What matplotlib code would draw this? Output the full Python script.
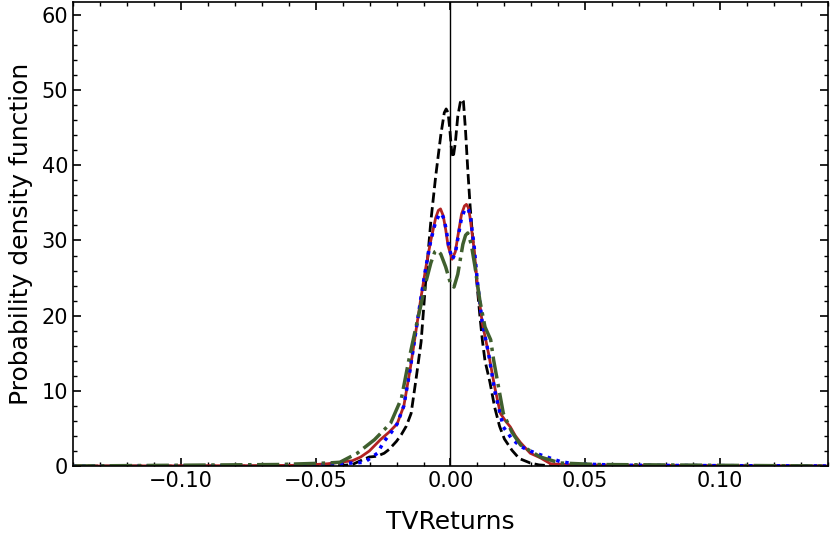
import numpy as np
import matplotlib
matplotlib.use('Agg')
import matplotlib.pyplot as plt
from matplotlib.ticker import MultipleLocator

plt.rcParams.update({
    'font.family': 'DejaVu Sans',
    'font.size': 15,
    'axes.linewidth': 1.2,
})

# ---- data (x = TV returns, y = density) ----
black_x = [-0.14, -0.055, -0.041, -0.0364, -0.0328, -0.0301, -0.0273, -0.0246, -0.0228,
           -0.0200, -0.0182, -0.0164, -0.0146, -0.0128, -0.0109, -0.0091, -0.0073, -0.0055,
           -0.0036, -0.0023, -0.0016, -0.0009, -0.0003, 0.0004, 0.0010, 0.0018, 0.0027,
           0.0036, 0.0042, 0.0048, 0.0056, 0.0064, 0.0073, 0.0082, 0.0091, 0.0100, 0.0109,
           0.0118, 0.0128, 0.0146, 0.0164, 0.0182, 0.0200, 0.0228, 0.0255, 0.0296, 0.0328,
           0.0364, 0.14]
black_y = [0.0, 0.0, 0.05, 0.2, 0.8, 1.2, 1.3, 1.7, 2.2,
           3.3, 4.2, 5.3, 7.0, 11.5, 16.5, 25.0, 32.5, 38.5,
           44.0, 47.0, 47.5, 47.0, 45.0, 42.0, 41.0, 43.0, 46.5,
           48.3, 48.8, 48.5, 44.5, 39.5, 34.5, 30.5, 27.0, 23.5, 20.0,
           16.8, 14.0, 11.2, 7.8, 5.3, 3.6, 2.1, 1.0, 0.4, 0.15,
           0.05, 0.0]

red_x = [-0.14, -0.0729, -0.0547, -0.0456, -0.041, -0.0364, -0.0333, -0.0301, -0.026,
         -0.0228, -0.0198, -0.0173, -0.0149, -0.0128, -0.0109, -0.0091, -0.0073, -0.0055,
         -0.0045, -0.0037, -0.0027, -0.0018, -0.0009, 0.0006, 0.0018, 0.0027, 0.0041,
         0.0052, 0.0059, 0.0066, 0.0073, 0.0087, 0.0100, 0.0118, 0.0141, 0.0164, 0.0185,
         0.0204, 0.0222, 0.0241, 0.0260, 0.0296, 0.0333, 0.0371, 0.0456, 0.0638, 0.14]
red_y = [0.0, 0.05, 0.1, 0.3, 0.5, 0.7, 1.2, 2.0, 3.5,
         4.5, 5.6, 8.0, 13.0, 18.0, 22.5, 26.5, 30.0, 33.0,
         34.0, 34.2, 33.3, 31.5, 29.3, 27.5, 28.5, 30.5, 33.5,
         34.6, 34.8, 34.4, 33.0, 29.0, 24.0, 19.0, 15.0, 10.5, 7.0,
         6.0, 5.2, 4.0, 3.1, 1.7, 1.1, 0.3, 0.15, 0.1, 0.0]

blue_x = [-0.14, -0.0729, -0.0547, -0.0456, -0.041, -0.0319, -0.0271, -0.0248, -0.0219,
          -0.0198, -0.0173, -0.0149, -0.0128, -0.0109, -0.0091, -0.0073, -0.0055,
          -0.0042, -0.0034, -0.0023, -0.0014, -0.0005, 0.0007, 0.0018, 0.0027, 0.0041,
          0.0053, 0.0061, 0.0068, 0.0075, 0.0087, 0.0100, 0.0118, 0.0141, 0.0164, 0.0196,
          0.0228, 0.0260, 0.0296, 0.0333, 0.0407, 0.0456, 0.0638, 0.14]
blue_y = [0.0, 0.05, 0.1, 0.2, 0.3, 0.5, 1.7, 3.2, 4.5,
          5.6, 8.0, 13.0, 18.0, 22.5, 26.5, 30.0, 32.5,
          33.4, 33.6, 32.8, 31.0, 29.0, 27.5, 28.3, 30.2, 33.0,
          34.1, 34.3, 34.0, 32.8, 29.5, 24.5, 19.0, 15.0, 10.0, 5.2,
          3.6, 2.6, 2.0, 1.5, 0.6, 0.3, 0.1, 0.0]

green_x = [-0.14, -0.0638, -0.0547, -0.0456, -0.041, -0.0346, -0.0282, -0.0222, -0.0182,
           -0.0155, -0.0128, -0.0109, -0.0091, -0.0073, -0.0058, -0.0049, -0.0036, -0.0018,
           0.0, 0.0013, 0.0027, 0.0046, 0.0056, 0.0064, 0.0077, 0.0091, 0.0109, 0.0128,
           0.0149, 0.0160, 0.0196, 0.0228, 0.0260, 0.0333, 0.0407, 0.0547, 0.14]
green_y = [0.0, 0.2, 0.3, 0.4, 0.5, 1.7, 3.5, 5.7, 9.0,
           14.0, 18.5, 21.5, 24.5, 27.0, 28.5, 28.7, 28.2, 26.5,
           24.3, 23.8, 25.5, 29.5, 30.7, 31.0, 29.5, 26.5, 22.0, 18.5,
           16.8, 14.1, 7.0, 4.5, 2.8, 1.2, 0.4, 0.2, 0.0]

fig = plt.figure(figsize=(8.3, 5.4), dpi=100)
ax = fig.add_axes([0.088, 0.137, 0.9095, 0.859])

ax.axvline(0, color='black', linewidth=1.0)
ax.plot(black_x, black_y, '--', color='black', linewidth=2.0)
ax.plot(red_x, red_y, '-', color='#b22222', linewidth=2.0)
ax.plot(blue_x, blue_y, ':', color='#0000ff', linewidth=2.5)
ax.plot(green_x, green_y, '-.', color='#3f5f2e', linewidth=2.5)

ax.set_xlim(-0.14, 0.14)
ax.set_ylim(0, 61.7)
ax.xaxis.set_major_locator(MultipleLocator(0.05))
ax.xaxis.set_minor_locator(MultipleLocator(0.01))
ax.yaxis.set_major_locator(MultipleLocator(10))
ax.yaxis.set_minor_locator(MultipleLocator(2))
ax.tick_params(which='both', direction='in', top=True, right=True, labelsize=15)
ax.tick_params(which='major', length=6, width=1.2)
ax.tick_params(which='minor', length=3, width=1.0)

ax.set_xlabel('TVReturns', fontsize=18, labelpad=14)
ax.set_ylabel('Probability density function', fontsize=18, labelpad=6)

fig.savefig('out.png', dpi=100)
